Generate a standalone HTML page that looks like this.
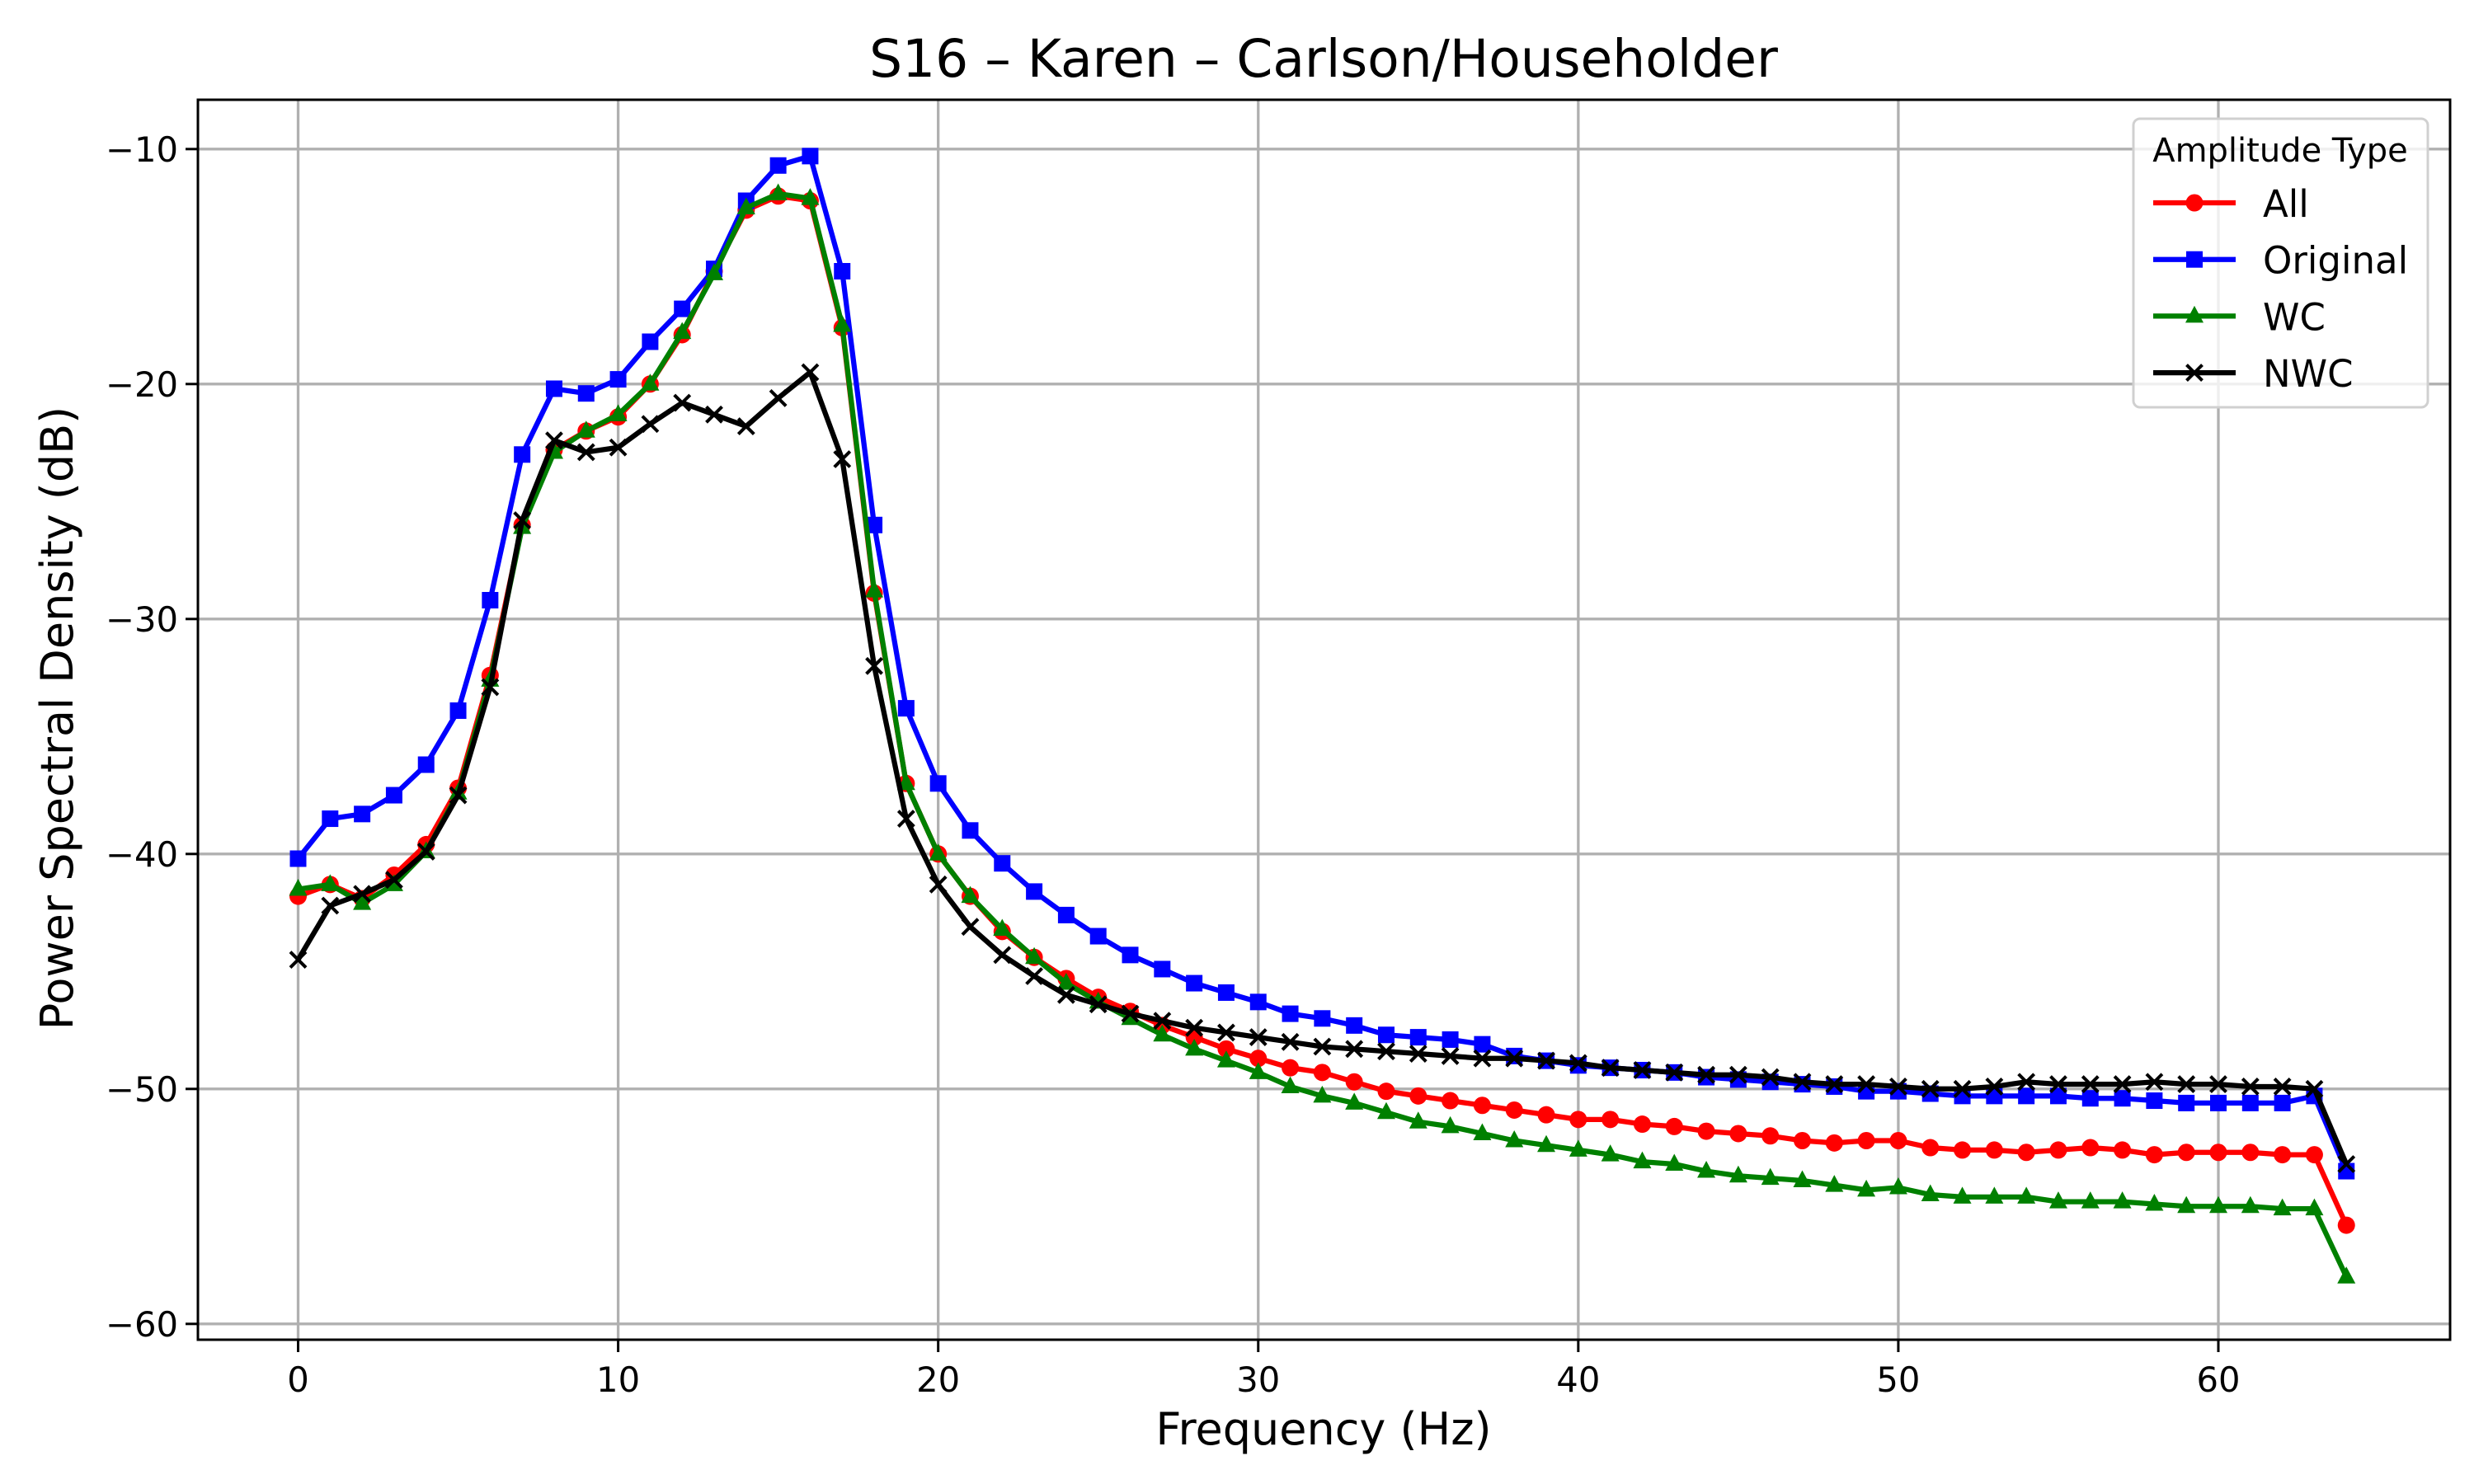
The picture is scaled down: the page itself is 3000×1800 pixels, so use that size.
<!DOCTYPE html>
<html><head><meta charset="utf-8"><style>
html,body{margin:0;padding:0;background:#fff;}
svg{display:block;font-family:"DejaVu Sans","Liberation Sans",sans-serif;}
</style></head><body>
<svg id="chart" width="3000" height="1800" viewBox="0 0 3000 1800" xmlns="http://www.w3.org/2000/svg">
<rect width="3000" height="1800" fill="#fff"/>
<g id="grid"></g>
<g id="series"></g>
<rect x="240" y="121" width="2731" height="1504" fill="none" stroke="#000" stroke-width="3"/>
<g id="ticks"></g>
<text x="1605" y="93" font-size="63" text-anchor="middle">S16 – Karen – Carlson/Householder</text>
<text x="1605" y="1752" font-size="54" text-anchor="middle">Frequency (Hz)</text>
<text x="88" y="871" font-size="54" text-anchor="middle" transform="rotate(-90 88 871)">Power Spectral Density (dB)</text>
<g id="legend"></g>
</svg>
<script>
const freqs = Array.from({length:65},(_,i)=>i);
const allVals = [-41.8,-41.3,-41.9,-40.9,-39.6,-37.2,-32.4,-26.0,-22.8,-22.0,-21.4,-20.0,-17.9,-15.2,-12.6,-12.0,-12.2,-17.6,-28.9,-37.0,-40.0,-41.8,-43.3,-44.4,-45.3,-46.1,-46.7,-47.3,-47.8,-48.3,-48.7,-49.1,-49.3,-49.7,-50.1,-50.3,-50.5,-50.7,-50.9,-51.1,-51.3,-51.3,-51.5,-51.6,-51.8,-51.9,-52.0,-52.2,-52.3,-52.2,-52.2,-52.5,-52.6,-52.6,-52.7,-52.6,-52.5,-52.6,-52.8,-52.7,-52.7,-52.7,-52.8,-52.8,-55.8];
const originalVals = [-40.2,-38.5,-38.3,-37.5,-36.2,-33.9,-29.2,-23.0,-20.2,-20.4,-19.8,-18.2,-16.8,-15.1,-12.2,-10.7,-10.3,-15.2,-26.0,-33.8,-37.0,-39.0,-40.4,-41.6,-42.6,-43.5,-44.3,-44.9,-45.5,-45.9,-46.3,-46.8,-47.0,-47.3,-47.7,-47.8,-47.9,-48.1,-48.6,-48.8,-49.0,-49.1,-49.2,-49.3,-49.5,-49.6,-49.7,-49.8,-49.9,-50.1,-50.1,-50.2,-50.3,-50.3,-50.3,-50.3,-50.4,-50.4,-50.5,-50.6,-50.6,-50.6,-50.6,-50.3,-53.5];
const wcVals = [-41.5,-41.3,-42.1,-41.3,-39.9,-37.4,-32.6,-26.1,-22.9,-22.0,-21.3,-20.0,-17.8,-15.3,-12.5,-11.9,-12.1,-17.5,-28.8,-37.0,-40.0,-41.8,-43.2,-44.4,-45.5,-46.3,-47.0,-47.7,-48.3,-48.8,-49.3,-49.9,-50.3,-50.6,-51.0,-51.4,-51.6,-51.9,-52.2,-52.4,-52.6,-52.8,-53.1,-53.2,-53.5,-53.7,-53.8,-53.9,-54.1,-54.3,-54.2,-54.5,-54.6,-54.6,-54.6,-54.8,-54.8,-54.8,-54.9,-55.0,-55.0,-55.0,-55.1,-55.1,-58.0];
const nwcVals = [-44.5,-42.2,-41.7,-41.1,-39.9,-37.5,-32.9,-25.8,-22.4,-22.9,-22.7,-21.7,-20.8,-21.3,-21.8,-20.6,-19.5,-23.2,-32.0,-38.5,-41.3,-43.1,-44.3,-45.2,-46.0,-46.4,-46.8,-47.1,-47.4,-47.6,-47.8,-48.0,-48.2,-48.3,-48.4,-48.5,-48.6,-48.7,-48.7,-48.8,-48.9,-49.1,-49.2,-49.3,-49.4,-49.4,-49.5,-49.7,-49.8,-49.8,-49.9,-50.0,-50.0,-49.9,-49.7,-49.8,-49.8,-49.8,-49.7,-49.8,-49.8,-49.9,-49.9,-50.0,-53.2];
const xTicks = [0,10,20,30,40,50,60];
const yTicks = [-10,-20,-30,-40,-50,-60];
const seriesNames = ["All","Original","WC","NWC"];

const NS="http://www.w3.org/2000/svg";
const X0=361.5, XS=(2690-361.5)/60;
const xs=v=>X0+v*XS;
const ys=v=>180.8+(-10-v)*28.5;
function mk(tag,attrs,parent){const e=document.createElementNS(NS,tag);for(const k in attrs)e.setAttribute(k,attrs[k]);parent.appendChild(e);return e;}
const grid=document.getElementById('grid'), ticks=document.getElementById('ticks'), series=document.getElementById('series'), legend=document.getElementById('legend');
xTicks.forEach(t=>{
  const g=mk('line',{x1:xs(t),x2:xs(t),y1:121,y2:1625,stroke:'#b0b0b0','stroke-width':3.3},grid);
  
  
  mk('line',{x1:xs(t),x2:xs(t),y1:1625,y2:1640,stroke:'#000','stroke-width':3},ticks);
  const tx=mk('text',{x:xs(t),y:1688,'font-size':41.7,'text-anchor':'middle'},ticks);
  tx.textContent=String(t);
  
  
});
yTicks.forEach(t=>{
  const g=mk('line',{x1:240,x2:2971,y1:ys(t),y2:ys(t),stroke:'#b0b0b0','stroke-width':3.3},grid);
  
  
  mk('line',{x1:225,x2:240,y1:ys(t),y2:ys(t),stroke:'#000','stroke-width':3},ticks);
  const tx=mk('text',{x:216,y:ys(t)+15,'font-size':41.7,'text-anchor':'end'},ticks);
  tx.textContent=String(t).replace('-','\u2212');
  
  
});
function marker(kind,color,x,y,parent){
  let e;
  if(kind==='o'){e=mk('circle',{cx:x,cy:y,r:10.5,fill:color},parent);}
  else if(kind==='s'){e=mk('rect',{x:x-10,y:y-10,width:20,height:20,fill:color},parent);}
  else if(kind==='^'){e=mk('polygon',{points:`${x},${y-12.5} ${x+11},${y+8} ${x-11},${y+8}`,fill:color},parent);}
  else {e=mk('path',{d:`M${x-9.5},${y-9.5}L${x+9.5},${y+9.5}M${x-9.5},${y+9.5}L${x+9.5},${y-9.5}`,stroke:color,'stroke-width':4},parent);}
  return e;
}
const defs=[[allVals,'#ff0000','o'],[originalVals,'#0000ff','s'],[wcVals,'#008000','^'],[nwcVals,'#000000','x']];
defs.forEach(([vals,color,kind],si)=>{
  const g=mk('g',{},series);
  
  
  const pts=vals.map((v,i)=>xs(freqs[i])+','+ys(v)).join(' ');
  const pl=mk('polyline',{points:pts,fill:'none',stroke:color,'stroke-width':6.25,'stroke-linejoin':'round'},g);
  
  
  vals.forEach((v,i)=>{
    const m=marker(kind,color,xs(freqs[i]),ys(v),g);
    
    
  });
  const ly=246+si*68.7;
  const le=mk('g',{},legend);
  
  
  mk('line',{x1:2611,x2:2711,y1:ly,y2:ly,stroke:color,'stroke-width':6.25},le);
  marker(kind,color,2661,ly,le);
  const t=mk('text',{x:2744,y:ly+17,'font-size':45},le);
  t.textContent=seriesNames[si];
});
const box=mk('rect',{x:2587,y:144,width:357,height:350,rx:8,fill:'#fff','fill-opacity':0.8,stroke:'#d0d0d0','stroke-width':3},legend);
legend.insertBefore(box,legend.firstChild);
const lt=mk('text',{x:2765,y:196,'font-size':40,'text-anchor':'middle'},legend);
lt.textContent='Amplitude Type';


</script>
</body></html>
